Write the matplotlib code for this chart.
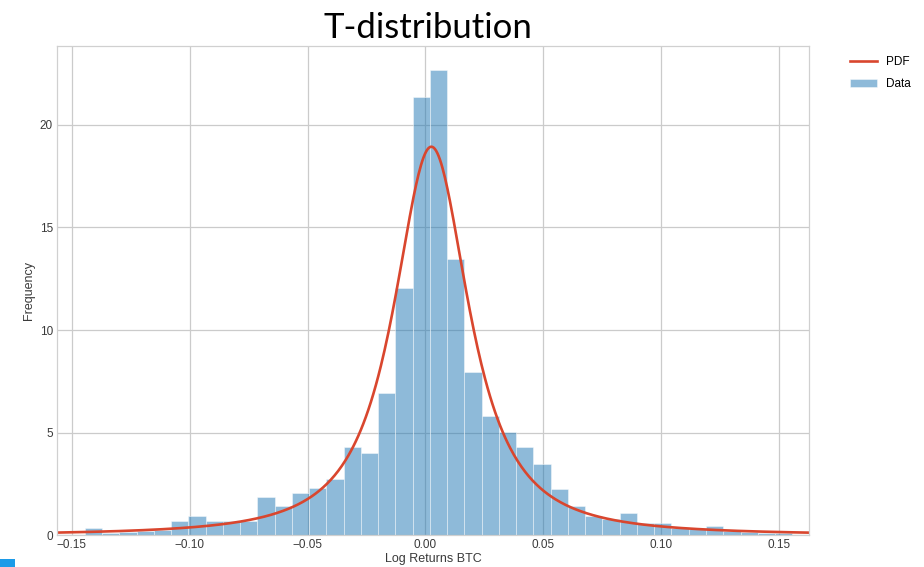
import math
import numpy as np
import matplotlib
matplotlib.use("Agg")
import matplotlib.pyplot as plt
from matplotlib.patches import Rectangle

# histogram of BTC log returns (density), one value per bin
bin_start = -0.1445
bin_width = 0.00732
density = [0.34, 0.12, 0.15, 0.20, 0.25, 0.71, 0.95, 0.71, 0.71, 0.72,
           1.88, 1.44, 2.05, 2.29, 2.74, 4.29, 4.02, 6.92, 12.04, 21.37,
           22.66, 13.44, 7.97, 5.83, 5.02, 4.29, 3.47, 2.27, 1.44, 0.95,
           0.78, 1.07, 0.58, 0.60, 0.36, 0.30, 0.45, 0.22, 0.15, 0.10, 0.10]

# fitted Student-t parameters
t_df, t_loc, t_scale = 1.5, 0.0025, 0.018

x_ticks = [-0.15, -0.10, -0.05, 0.00, 0.05, 0.10, 0.15]
y_ticks = [0, 5, 10, 15, 20]

plt.rcParams["font.family"] = ["Liberation Sans", "DejaVu Sans"]


def t_pdf(x, df, loc, scale):
    z = (x - loc) / scale
    c = math.exp(math.lgamma((df + 1) / 2) - math.lgamma(df / 2)) / math.sqrt(df * math.pi)
    return c / scale * (1 + z ** 2 / df) ** (-(df + 1) / 2)


edges = bin_start + bin_width * np.arange(len(density) + 1)

fig = plt.figure(figsize=(9.24, 5.67), dpi=100)
ax = fig.add_axes([0.0617, 0.0559, 0.8138, 0.8635])
ax.set_axisbelow(True)
ax.grid(True, color="#cbcbcb", lw=0.9)
for s in ax.spines.values():
    s.set_color("#d0d0d0")
    s.set_linewidth(0.9)

ax.bar(edges[:-1], density, width=bin_width, align="edge", color="#1f77b4",
       alpha=0.5, edgecolor="white", linewidth=0.6, label="Data")

xlim = (-0.1563, 0.1627)
xs = np.linspace(xlim[0], xlim[1], 600)
ax.plot(xs, t_pdf(xs, t_df, t_loc, t_scale), color="#d9462e", lw=1.9, label="PDF")

ax.set_xlim(*xlim)
ax.set_ylim(0, 23.85)
ax.set_xticks(x_ticks)
ax.set_xticklabels([f"{v:.2f}".replace("-", "\u2212") for v in x_ticks])
ax.set_yticks(y_ticks)
ax.tick_params(length=0, labelsize=8.5, colors="#3a3a3a", pad=3)
ax.set_xlabel("Log Returns BTC", fontsize=9, color="#3a3a3a", labelpad=1)
ax.set_ylabel("Frequency", fontsize=9, color="#3a3a3a", labelpad=3)

ax.legend(loc="upper left", bbox_to_anchor=(1.04, 1.0),
          frameon=False, fontsize=8.5, handlelength=2.3, labelspacing=0.8,
          handletextpad=0.8)

fig.text(0.463, 0.933, "T-distribution", ha="center", va="baseline",
         fontsize=25, family="Lato", color="black")

# small blue marker in the lower-left corner
fig.add_artist(Rectangle((0, 0), 15 / 924, 8 / 567, transform=fig.transFigure,
                         color="#1c9be8", lw=0))

fig.savefig("out.png", dpi=100)
